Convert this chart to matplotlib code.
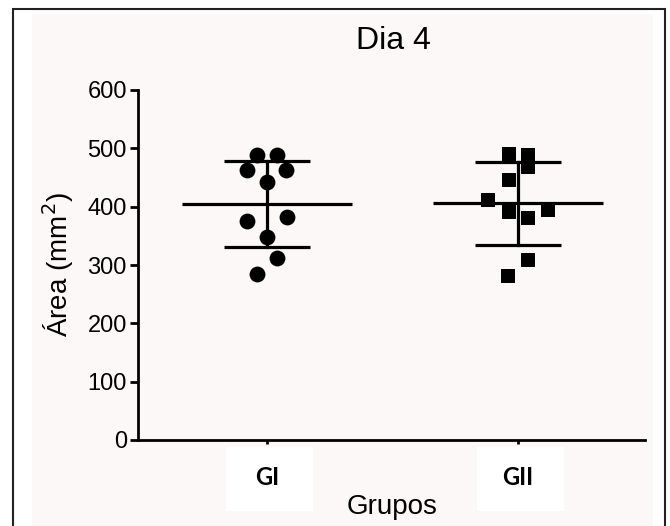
import numpy as np
import matplotlib
matplotlib.use("Agg")
import matplotlib.pyplot as plt
from matplotlib.patches import Rectangle

# data (area in mm2, day 4)
groups = ["GI", "GII"]
gi_values = [488, 488, 463, 463, 442, 375, 382, 348, 312, 285]
gi_spread = [-0.04, 0.04, -0.08, 0.076, 0.0, -0.08, 0.08, 0.0, 0.04, -0.04]
gii_values = [491, 488, 468, 446, 411, 391, 381, 394, 309, 281]
gii_spread = [-0.036, 0.04, 0.04, -0.036, -0.12, -0.036, 0.04, 0.12, 0.04, -0.04]
yticks = [0, 100, 200, 300, 400, 500, 600]

plt.rcParams['font.family'] = ['Liberation Sans', 'DejaVu Sans']

fig = plt.figure(figsize=(6.7, 5.26), dpi=100)
fig.patch.set_facecolor('white')

# page background + frame
fig.patches.append(Rectangle((32/670, 0.0), 621/670, 1 - 14/526, transform=fig.transFigure,
                             facecolor='#fbf8f7', edgecolor='none', zorder=-2))
fig.patches.append(Rectangle((13/670, -0.05), 652/670, 1.05 - 9/526, transform=fig.transFigure,
                             facecolor='none', edgecolor='#222222', lw=1.5, zorder=-1))

ax = fig.add_axes([138/670, 86/526, 507/670, 350/526])
ax.set_facecolor('none')

lw = 2.3
series = [(1, gi_values, gi_spread, 'o'), (2, gii_values, gii_spread, 's')]
for xc, vals, spread, mk in series:
    vals = np.array(vals, dtype=float)
    m = vals.mean()
    sd = vals.std(ddof=1)
    ax.scatter(xc + np.array(spread), vals, marker=mk, s=130 if mk == 'o' else 115,
               color='black', zorder=3, linewidths=0)
    ax.plot([xc - 0.34, xc + 0.34], [m, m], color='black', lw=lw, solid_capstyle='butt')
    ax.plot([xc, xc], [m - sd, m + sd], color='black', lw=lw)
    ax.plot([xc - 0.17, xc + 0.17], [m + sd, m + sd], color='black', lw=lw, solid_capstyle='butt')
    ax.plot([xc - 0.17, xc + 0.17], [m - sd, m - sd], color='black', lw=lw, solid_capstyle='butt')

ax.set_xlim(0.486, 2.506)
ax.set_ylim(0, 600)
ax.set_yticks(yticks)
ax.set_xticks([1, 2])
ax.set_xticklabels([])
for s in ['top', 'right']:
    ax.spines[s].set_visible(False)
for s in ['left', 'bottom']:
    ax.spines[s].set_linewidth(2)
ax.tick_params(axis='y', direction='out', length=6, width=2, labelsize=17, pad=2)
ax.tick_params(axis='x', direction='out', length=3, width=2)

# group labels on white boxes
for xc, name in zip([1, 2], groups):
    ax.add_patch(Rectangle((xc - 0.165, -122), 0.35, 110, facecolor='white',
                           edgecolor='none', clip_on=False, zorder=1))
    ax.text(xc, -65, name, ha='center', va='center', fontsize=17, fontweight='bold',
            family=['Lato', 'DejaVu Sans'], clip_on=False, zorder=2)

ax.text(1.5, -115, "Grupos", ha='center', va='center', fontsize=20, clip_on=False)
ax.set_ylabel("Área (mm$^2$)", fontsize=20)
ax.yaxis.set_label_coords(-(138 - 76) / 507, 0.5)
fig.text(393/670, 1 - 41/526, "Dia 4", ha='center', va='center', fontsize=23)

fig.savefig("out.png", dpi=100)
